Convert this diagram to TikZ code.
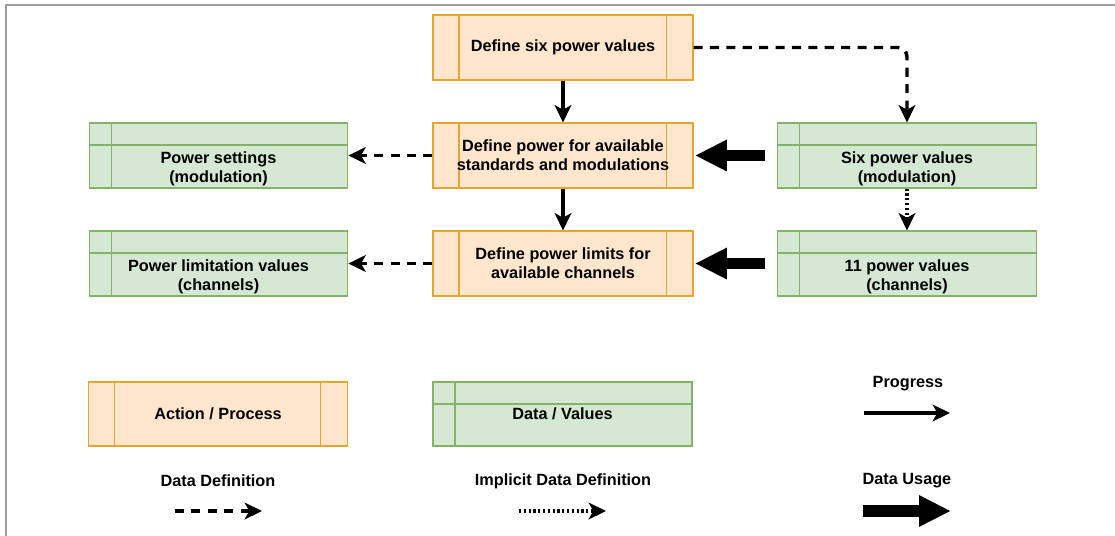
\documentclass[tikz,border=0pt]{standalone}
\usepackage{fontspec}
\setmainfont{Liberation Sans}
\usetikzlibrary{arrows.meta,calc}
\definecolor{procfill}{HTML}{FFE6CC}
\definecolor{procline}{HTML}{E0A82E}
\definecolor{datafill}{HTML}{D5E8D4}
\definecolor{dataline}{HTML}{82B366}
\definecolor{framegray}{HTML}{9E9E9E}
\tikzset{
  boxfont/.style={font=\bfseries\fontsize{12.2}{14.25}\selectfont},
  proc/.style={draw=procline, fill=procfill, line width=0.8pt,
    minimum width=195pt, minimum height=48.75pt, inner sep=0pt,
    align=center, boxfont,
    path picture={
      \draw[procline, line width=0.8pt]
        ([xshift=19.5pt]path picture bounding box.north west) --
        ([xshift=19.5pt]path picture bounding box.south west);
      \draw[procline, line width=0.8pt]
        ([xshift=-20pt]path picture bounding box.north east) --
        ([xshift=-20pt]path picture bounding box.south east);
    }},
  databox/.style={draw=dataline, fill=datafill, line width=0.8pt,
    minimum width=194pt, minimum height=48.75pt, inner sep=0pt,
    align=center, boxfont,
    path picture={
      \draw[dataline, line width=0.8pt]
        ([xshift=16.5pt]path picture bounding box.north west) --
        ([xshift=16.5pt]path picture bounding box.south west);
      \draw[dataline, line width=0.8pt]
        ([yshift=-16.5pt]path picture bounding box.north west) --
        ([yshift=-16.5pt]path picture bounding box.north east);
    }},
  datatext/.style={align=center, boxfont, inner sep=0pt},
  legtext/.style={boxfont, inner sep=0pt},
  tipstyle/.style={-{Stealth[length=13pt,width=12.5pt,inset=3.5pt]}},
  progarrow/.style={line width=2.6pt, tipstyle},
  defarrow/.style={line width=2.6pt, dash pattern=on 6.8pt off 5.5pt, tipstyle},
  implarrow/.style={line width=2.6pt, dash pattern=on 1.7pt off 1.9pt, tipstyle},
  usearrow/.style={line width=8.5pt, -{Triangle[length=24pt,width=22pt]}},
}
\begin{document}
\begin{tikzpicture}[x=0.75pt,y=-0.75pt]
\useasboundingbox (0,0) rectangle (1115,536);
\fill[white] (0,0) rectangle (1115,536);
\draw[framegray, line width=1.2pt] (6,536) -- (6,5) -- (1115,5);

% process boxes
\node[proc] (p1) at (563,47.5) {Define six power values};
\node[proc] (p2) at (563,155.5) {Define power for available\\standards and modulations};
\node[proc] (p3) at (563,263.5) {Define power limits for\\available channels};

% data boxes
\node[databox] (gl1) at (218.5,155.5) {};
\node[datatext] (gl1t) at ([yshift=-9.8pt]gl1.center) {Power settings\\(modulation)};
\node[databox] (gl2) at (218.5,263.5) {};
\node[datatext] (gl2t) at ([yshift=-9.8pt]gl2.center) {Power limitation values\\(channels)};
\node[databox] (gr1) at (907,155.5) {};
\node[datatext] (gr1t) at ([yshift=-9.8pt]gr1.center) {Six power values\\(modulation)};
\node[databox] (gr2) at (907,263.5) {};
\node[datatext] (gr2t) at ([yshift=-9.8pt]gr2.center) {11 power values\\(channels)};

% connectors
\draw[progarrow] (p1.south) -- (p2.north);
\draw[progarrow] (p2.south) -- (p3.north);
\draw[defarrow, rounded corners=7pt] (p1.east) -| (gr1.north);
\draw[implarrow] (gr1.south) -- (gr2.north);
\draw[defarrow] (p2.west) -- (gl1.east);
\draw[defarrow] (p3.west) -- (gl2.east);
\draw[usearrow, shorten <=9pt, shorten >=1pt] (gr1.west) -- (p2.east);
\draw[usearrow, shorten <=9pt, shorten >=1pt] (gr2.west) -- (p3.east);

% legend
\node[proc, minimum width=194.25pt, minimum height=48pt] (lp) at (218,414) {Action / Process};
\node[databox, minimum width=194.25pt, minimum height=48pt] (ld) at (562.5,414) {Data / Values};

\node[legtext] (lprog) at (908,384) {Progress};
\coordinate (pa1) at (864,413);
\coordinate (pa2) at (950,413);
\draw[progarrow] (pa1) -- (pa2);

\node[legtext] (ldef) at (218,481) {Data Definition};
\coordinate (da1) at (175,511);
\coordinate (da2) at (262,511);
\draw[defarrow] (da1) -- (da2);

\node[legtext] (limpl) at (563,481) {Implicit Data Definition};
\coordinate (ia1) at (519,511);
\coordinate (ia2) at (606,511);
\draw[implarrow] (ia1) -- (ia2);

\node[legtext] (luse) at (907,481) {Data Usage};
\coordinate (ua1) at (863,511);
\coordinate (ua2) at (951,511);
\draw[usearrow] (ua1) -- (ua2);
\end{tikzpicture}
\end{document}
